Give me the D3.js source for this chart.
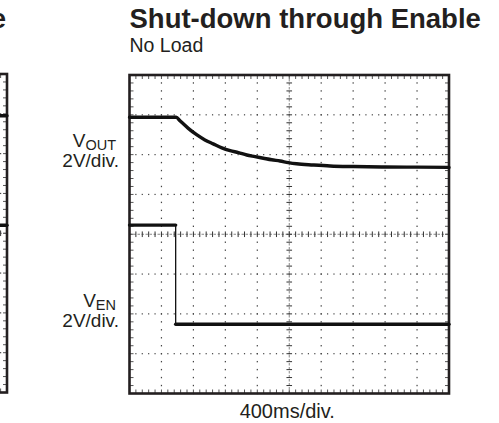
<!DOCTYPE html>
<html>
<head>
<meta charset="utf-8">
<script src="https://cdn.jsdelivr.net/npm/d3@7/dist/d3.min.js"></script>
<style>
  html, body { margin: 0; padding: 0; background: #fff; }
  svg { display: block; }
  text { font-family: "Liberation Sans", Arial, Helvetica, sans-serif; fill: #231f20; }
</style>
</head>
<body>
<div id="chart"></div>
<script>
// ---- data (time in divisions of 400 ms, voltage in divisions of 2 V) ----
const title = "Shut-down through Enable";
const subtitle = "No Load";
const xLabel = "400ms/div.";
const timeDivisions = [0, 1, 2, 3, 4, 5, 6, 7, 8, 9, 10];
const voltDivisions = [0, 1, 2, 3, 4, 5, 6, 7, 8];

const voutTime = [0, 1.46, 1.58, 1.84, 2.10, 2.36, 2.62, 2.89, 3.15, 3.41, 3.67, 3.93, 4.19, 4.45, 4.71, 4.97, 5.23, 5.75, 6.28, 7.0, 8.0, 9.0, 10];
const voutLevel = [6.94, 6.94, 6.85, 6.66, 6.50, 6.37, 6.27, 6.17, 6.10, 6.05, 5.99, 5.95, 5.91, 5.87, 5.84, 5.80, 5.77, 5.74, 5.715, 5.70, 5.69, 5.685, 5.68];

const venTime = [0, 1.445, 1.445, 10];
const venLevel = [4.23, 4.23, 1.74, 1.74];

// right edge of the neighbouring (cut-off) plot
const leftVoutTime = [9.6, 10];
const leftVoutLevel = [6.95, 6.95];
const leftVenTime = [9.6, 10];
const leftVenLevel = [4.2, 4.2];

// ---- drawing ----
const W = 499, H = 423;
const svg = d3.select("#chart").append("svg").attr("width", W).attr("height", H);

const ink = "#231f20";

function drawScope(g, x, y) {
  const [x0, x1] = x.range();
  const [y1, y0] = y.range();
  const minorX = d3.range(0, 10.0001, 0.2);
  const minorY = d3.range(0, 8.0001, 0.2);

  // interior dotted grid lines
  timeDivisions.filter(d => d > 0 && d < 10 && d !== 5).forEach(d => {
    g.selectAll(null).data(minorY).enter().append("rect")
      .attr("x", x(d) - 0.6).attr("y", v => y(v) - 0.7)
      .attr("width", 1.2).attr("height", 1.4).attr("fill", "#444");
  });
  voltDivisions.filter(d => d > 0 && d < 8 && d !== 4).forEach(d => {
    g.selectAll(null).data(minorX).enter().append("rect")
      .attr("x", v => x(v) - 0.6).attr("y", y(d) - 0.6)
      .attr("width", 1.2).attr("height", 1.2).attr("fill", "#444");
  });

  // centre lines with ticks
  g.append("line").attr("x1", x(5)).attr("x2", x(5)).attr("y1", y0).attr("y2", y1)
    .attr("stroke", "#888").attr("stroke-width", 1).attr("stroke-dasharray", "2.5,1.5");
  g.append("line").attr("x1", x0).attr("x2", x1).attr("y1", y(4)).attr("y2", y(4))
    .attr("stroke", "#888").attr("stroke-width", 1).attr("stroke-dasharray", "2.5,1.5");
  g.selectAll(null).data(minorY).enter().append("line")
    .attr("x1", x(5) - 2.8).attr("x2", x(5) + 2.8).attr("y1", v => y(v)).attr("y2", v => y(v))
    .attr("stroke", "#333").attr("stroke-width", 1);
  g.selectAll(null).data(minorX).enter().append("line")
    .attr("y1", y(4) - 2.8).attr("y2", y(4) + 2.8).attr("x1", v => x(v)).attr("x2", v => x(v))
    .attr("stroke", "#333").attr("stroke-width", 1);

  // border ticks
  g.selectAll(null).data(minorX).enter().append("line")
    .attr("x1", v => x(v)).attr("x2", v => x(v)).attr("y1", y0).attr("y2", y0 + 4)
    .attr("stroke", "#555").attr("stroke-width", 1);
  g.selectAll(null).data(minorX).enter().append("line")
    .attr("x1", v => x(v)).attr("x2", v => x(v)).attr("y1", y1).attr("y2", y1 - 4)
    .attr("stroke", "#555").attr("stroke-width", 1);
  g.selectAll(null).data(minorY).enter().append("line")
    .attr("y1", v => y(v)).attr("y2", v => y(v)).attr("x1", x0).attr("x2", x0 + 4)
    .attr("stroke", "#555").attr("stroke-width", 1);
  g.selectAll(null).data(minorY).enter().append("line")
    .attr("y1", v => y(v)).attr("y2", v => y(v)).attr("x1", x1).attr("x2", x1 - 4)
    .attr("stroke", "#555").attr("stroke-width", 1);

  // frame
  g.append("rect").attr("x", x0).attr("y", y0).attr("width", x1 - x0).attr("height", y1 - y0)
    .attr("fill", "none").attr("stroke", ink).attr("stroke-width", 2.6);
}

// step-like trace: thin vertical edges, thick horizontal runs
function drawStep(g, x, y, ts, vs) {
  const pts = ts.map((t, i) => [x(t), y(vs[i])]);
  for (let i = 0; i < pts.length - 1; i++) {
    const a = pts[i], b = pts[i + 1];
    const steep = Math.abs(b[0] - a[0]) < 0.5;
    g.append("line").attr("x1", a[0]).attr("y1", a[1]).attr("x2", b[0]).attr("y2", b[1])
      .attr("stroke", "#111").attr("stroke-width", steep ? 1.3 : 3.4)
      .attr("stroke-linecap", steep ? "butt" : "round");
  }
}

// smooth trace
function drawCurve(g, x, y, ts, vs) {
  const line = d3.line().x(d => x(d[0])).y(d => y(d[1])).curve(d3.curveMonotoneX);
  g.append("path").attr("d", line(ts.map((t, i) => [t, vs[i]])))
    .attr("fill", "none").attr("stroke", "#111").attr("stroke-width", 3.4)
    .attr("stroke-linejoin", "round").attr("stroke-linecap", "round");
}

// main scope
const x = d3.scaleLinear().domain([0, 10]).range([129.5, 449]);
const y = d3.scaleLinear().domain([0, 8]).range([393.5, 75]);
const main = svg.append("g");
drawScope(main, x, y);
drawCurve(main, x, y, voutTime, voutLevel);
drawStep(main, x, y, venTime, venLevel);

// neighbouring scope (only its right edge is visible)
svg.append("clipPath").attr("id", "leftClip").append("rect")
  .attr("x", 0).attr("y", 0).attr("width", 9.5).attr("height", H);
const xl = d3.scaleLinear().domain([0, 10]).range([7 - 319.5, 7]);
const yl = d3.scaleLinear().domain([0, 8]).range([392.5, 74]);
const left = svg.append("g").attr("clip-path", "url(#leftClip)");
drawScope(left, xl, yl);
drawStep(left, xl, yl, leftVoutTime, leftVoutLevel);
drawStep(left, xl, yl, leftVenTime, leftVenLevel);

// texts
svg.append("text").attr("x", 6).attr("y", 28).attr("text-anchor", "end")
  .attr("font-size", 27.5).attr("font-weight", "bold").text("e");
svg.append("text").attr("x", 129.5).attr("y", 28)
  .attr("font-size", 27.5).attr("font-weight", "bold").text(title);
svg.append("text").attr("x", 129.5).attr("y", 52)
  .attr("font-size", 19.5).text(subtitle);

// channel label: one text element, two lines
function chLabel(sub, yBase) {
  const t = svg.append("text").attr("y", yBase).attr("text-anchor", "end").attr("font-size", 19);
  t.append("tspan").attr("x", 116).attr("y", yBase).text("V");
  t.append("tspan").attr("font-size", 14.5).attr("dy", 2.8).text(sub);
  t.append("tspan").attr("x", 119).attr("y", yBase + 20).text("2V/div.");
}
chLabel("OUT", 147.3);
chLabel("EN", 306.7);

svg.append("text").attr("x", (x(0) + x(10)) / 2 - 2).attr("y", 418).attr("text-anchor", "middle")
  .attr("font-size", 20).text(xLabel);
</script>
</body>
</html>
